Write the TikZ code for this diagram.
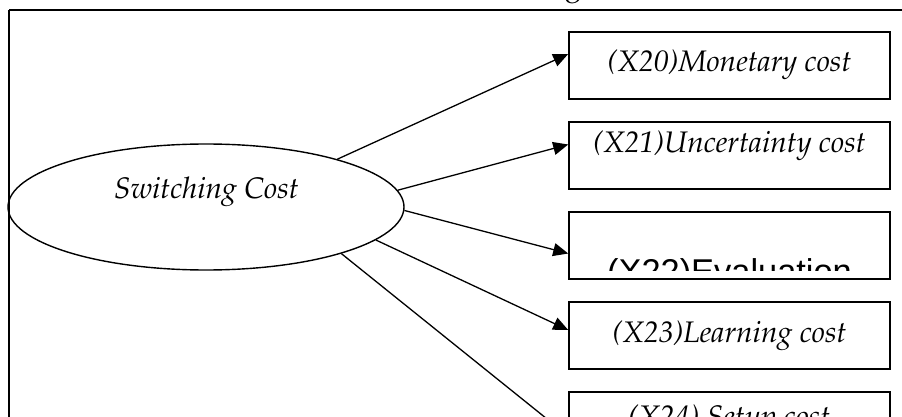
\documentclass[tikz,border=0pt]{standalone}
\usepackage[T1]{fontenc}
\usepackage{fontspec}
\newfontfamily\arialf{Liberation Sans}
\usetikzlibrary{shapes.geometric,arrows.meta}
\newcommand\palit{\fontencoding{T1}\fontfamily{ppl}\fontseries{m}\fontshape{it}\fontsize{29.7}{34}\selectfont}
\newcommand\palrm{\fontencoding{T1}\fontfamily{ppl}\fontseries{m}\fontshape{n}\fontsize{29.7}{34}\selectfont}
\tikzset{
  boxnode/.style={draw, line width=1.6pt, minimum width=321pt, minimum height=67pt, inner sep=0pt},
  arr/.style={line width=1.3pt, -{Triangle[length=15pt,width=13pt]}},
  lbl/.style={font=\palit, inner sep=0pt, anchor=base},
}
\begin{document}
\begin{tikzpicture}[x=1pt,y=-1pt]
\useasboundingbox (0,0) rectangle (902,417);
\clip (0,0) rectangle (902,417);
% frame
\coordinate (ftl) at (9,10);
\coordinate (ftr) at (905,10);
\coordinate (fbl) at (9,420);
\draw[line width=1.6pt] (ftr) -- (ftl);
\draw[line width=1.3pt] (ftl) -- (fbl);
% cut-off text above frame
\node[font=\palrm, inner sep=0pt, anchor=base] (gtop) at (573,-4) {g};
% ellipse
\node[draw, ellipse, line width=1.4pt, minimum width=396pt, minimum height=126pt, inner sep=0pt] (sc) at (206,207) {};
\node[lbl] (sctext) at (206.5,198.3) {Switching Cost};
% boxes
\node[boxnode] (b1) at (729.5,65.5) {};
\node[boxnode] (b2) at (729.5,155.5) {};
\node[boxnode] (b3) at (729.5,245.5) {};
\node[boxnode] (b4) at (729.5,335.5) {};
\node[boxnode] (b5) at (729.5,425.5) {};
\node[lbl] (t1) at (729.5,71.7) {(X20)Monetary cost};
\node[lbl] (t2) at (729.5,153) {(X21)Uncertainty cost};
\begin{scope}
  \clip (570,213) rectangle (889,270);
  \node[font=\arialf\fontsize{34.4}{38}\selectfont, inner sep=0pt, anchor=base] (t3) at (729.5,283) {(X22)Evaluation};
\end{scope}
\node[lbl] (t4) at (729.5,342) {(X23)Learning cost};
\node[lbl] (t5) at (729.5,426) {(X24) Setup cost};
% arrows
\draw[arr] (sc.20) -- ([yshift=11.5pt]b1.west);
\draw[arr] (sc.5.7) -- ([yshift=11pt]b2.west);
\draw[arr] (sc.-1.4) -- ([yshift=-8pt]b3.west);
\draw[arr] (sc.-11) -- ([yshift=5.5pt]b4.west);
\draw[arr] (sc.-19.5) -- ([yshift=-10.5pt]b5.west);
\end{tikzpicture}
\end{document}
